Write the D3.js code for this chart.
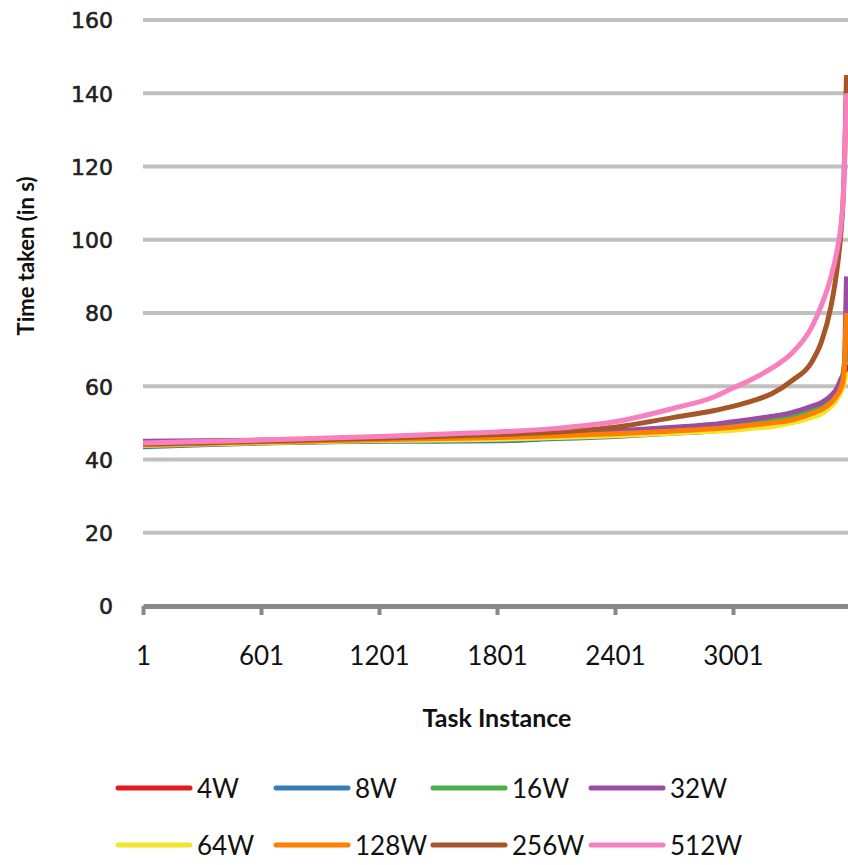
<!DOCTYPE html>
<html>
<head>
<meta charset="utf-8">
<script src="https://cdn.jsdelivr.net/npm/d3@7"></script>
<style>
  body { margin: 0; background: #fff; }
  svg { display: block; }
</style>
</head>
<body>
<div id="chart"></div>
<script>
var tasks = [1, 300, 600, 900, 1200, 1500, 1800, 2100, 2400, 2700, 2900, 3000, 3100, 3200, 3300, 3400, 3450, 3500, 3530, 3550, 3562, 3570, 3578];

var w4   = [43.8, 44.2, 44.6, 44.9, 45.1, 45.4, 45.7, 46.1, 46.6, 47.4, 48.0, 48.4, 48.9, 49.5, 50.4, 51.8, 52.8, 54.8, 56.8, 59, 61, 63.5, 66];
var w8   = [43.5, 44.0, 44.5, 44.8, 45.0, 45.0, 45.1, 45.7, 46.3, 47.2, 47.8, 48.3, 48.9, 49.5, 50.5, 52.0, 53.2, 55.2, 57.5, 60, 63, 66, 70];
var w16  = [44.2, 44.6, 44.9, 45.2, 45.5, 45.8, 46.2, 46.7, 47.3, 48.2, 49.0, 49.6, 50.3, 51.0, 52.0, 53.8, 55, 57, 59, 61.5, 64, 67, 72];
var w32  = [45.0, 45.1, 45.3, 45.5, 45.8, 46.1, 46.5, 47.0, 47.8, 48.8, 49.6, 50.3, 51.0, 51.8, 52.8, 54.5, 55.5, 57.5, 59.5, 62, 63, 70, 90];
var w64  = [43.8, 44.2, 44.6, 44.9, 45.2, 45.3, 45.5, 46.0, 46.5, 47.2, 47.7, 48.0, 48.5, 49.0, 50.0, 51.5, 52.5, 54.5, 56.5, 58.5, 60, 62, 64];
var w128 = [44.0, 44.4, 44.8, 45.1, 45.4, 45.7, 46.0, 46.5, 47.0, 47.8, 48.4, 48.8, 49.4, 50.0, 50.8, 52.5, 53.6, 55.5, 57.5, 59.5, 62, 68, 80];
var w256 = [44.2, 44.6, 45.0, 45.4, 45.8, 46.3, 46.8, 47.5, 48.8, 51.5, 53.3, 54.5, 56, 58, 61.5, 66.5, 72, 82, 92, 102, 112, 125, 145];
var w512 = [44.5, 44.9, 45.3, 45.8, 46.3, 46.9, 47.5, 48.5, 50.3, 54, 57, 59.5, 62, 65, 69, 76, 82, 90, 97, 104, 112, 125, 140];

var seriesNames = ["4W", "8W", "16W", "32W", "64W", "128W", "256W", "512W"];
var seriesValues = [w4, w8, w16, w32, w64, w128, w256, w512];
var seriesColors = ["#e41a1c", "#377eb8", "#4daf4a", "#984ea3", "#f2e52a", "#ff7f00", "#a65628", "#f781bf"];

var yTicks = [0, 20, 40, 60, 80, 100, 120, 140, 160];
var xTicks = [1, 601, 1201, 1801, 2401, 3001];

var svgWidth = 848, svgHeight = 865;
var margin = { top: 20, right: -3, bottom: 259, left: 143 };
var chartWidth = svgWidth - margin.left - margin.right;
var chartHeight = svgHeight - margin.top - margin.bottom;

var svg = d3.select("#chart").append("svg")
    .attr("width", svgWidth)
    .attr("height", svgHeight)
    .style("background", "#fff");

var chartGroup = svg.append("g")
    .attr("transform", `translate(${margin.left}, ${margin.top})`);

// Scales
var xScale = d3.scaleLinear().domain([1, 3601]).range([0, chartWidth]);
var yScale = d3.scaleLinear().domain([0, 160]).range([chartHeight, 0]);

// Gridlines
chartGroup.append("g")
    .selectAll("line")
    .data(yTicks.filter(d => d > 0))
    .enter().append("line")
    .attr("x1", 0)
    .attr("x2", chartWidth)
    .attr("y1", d => yScale(d))
    .attr("y2", d => yScale(d))
    .attr("stroke", "#c0c0c0")
    .attr("stroke-width", 4);

// Y axis labels (no axis line)
var leftAxis = d3.axisLeft(yScale).tickValues(yTicks).tickSize(0).tickPadding(30);
var yAxis = chartGroup.append("g").call(leftAxis);
yAxis.select(".domain").remove();
yAxis.selectAll("text")
    .attr("font-family", "DejaVu Sans")
    .attr("font-size", 22)
    .attr("fill", "#222")
    .attr("stroke", "#222")
    .attr("stroke-width", 0.6)
    .attr("dy", "0.36em");

// X axis
var bottomAxis = d3.axisBottom(xScale).tickValues(xTicks).tickFormat(d3.format("d"))
    .tickSizeInner(9).tickSizeOuter(0).tickPadding(32);
var xAxis = chartGroup.append("g")
    .attr("transform", `translate(0, ${chartHeight})`)
    .call(bottomAxis);
xAxis.select(".domain").attr("stroke", "#888").attr("stroke-width", 5);
xAxis.selectAll(".tick line").attr("stroke", "#888").attr("stroke-width", 4);
xAxis.selectAll("text")
    .attr("font-family", "Lato")
    .attr("font-size", 26)
    .attr("fill", "#111");

// Lines
var line = d3.line()
    .x((d, i) => xScale(tasks[i]))
    .y(d => yScale(d))
    .curve(d3.curveMonotoneX);

chartGroup.append("g")
    .selectAll("path")
    .data(seriesValues)
    .enter().append("path")
    .attr("d", d => line(d))
    .attr("fill", "none")
    .attr("stroke", (d, i) => seriesColors[i])
    .attr("stroke-width", 5);

// Axis titles
svg.append("text")
    .attr("x", 497)
    .attr("y", 727)
    .attr("text-anchor", "middle")
    .attr("font-family", "Lato")
    .attr("font-weight", "bold")
    .attr("font-size", 25)
    .attr("fill", "#111")
    .text("Task Instance");

svg.append("text")
    .attr("transform", "translate(34, 256) rotate(-90)")
    .attr("text-anchor", "middle")
    .attr("font-family", "Lato")
    .attr("font-weight", "bold")
    .attr("font-size", 22)
    .attr("fill", "#111")
    .text("Time taken (in s)");

// Legend
var legendX = [118, 276, 433, 591];
var legendY = [788, 845];
var legend = svg.append("g")
    .selectAll("g")
    .data(seriesNames)
    .enter().append("g")
    .attr("transform", (d, i) => `translate(${legendX[i % 4]}, ${legendY[Math.floor(i / 4)]})`);

legend.append("line")
    .attr("x1", 0)
    .attr("x2", 72)
    .attr("stroke", (d, i) => seriesColors[i])
    .attr("stroke-width", 5)
    .attr("stroke-linecap", "round");

legend.append("text")
    .attr("x", 79)
    .attr("y", 10)
    .attr("font-family", "Lato")
    .attr("font-size", 26)
    .attr("fill", "#111")
    .text(d => d);
</script>
</body>
</html>
